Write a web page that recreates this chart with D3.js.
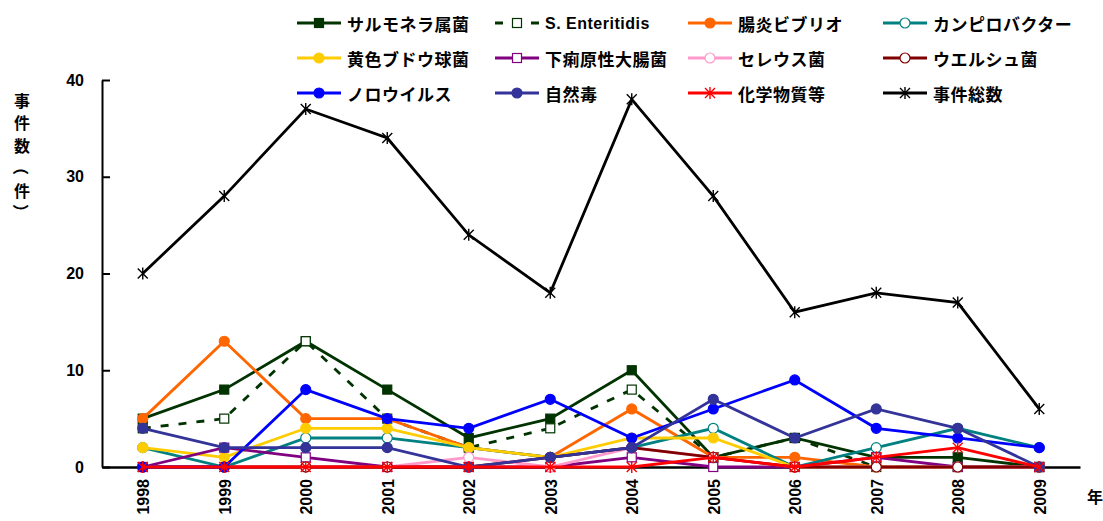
<!DOCTYPE html>
<html><head><meta charset="utf-8">
<script src="https://cdn.jsdelivr.net/npm/d3@7"></script>
<style>
html,body{margin:0;padding:0;background:#fff;}
svg{display:block;}
</style></head>
<body>
<svg id="chart" width="1103" height="521"></svg>
<script>
const years = ["1998","1999","2000","2001","2002","2003","2004","2005","2006","2007","2008","2009"];
const salmonella    = [5,8,13,8,3,5,10,1,3,1,1,0];
const enteritidis   = [4,5,13,5,2,4,8,1,3,0,0,0];
const vibrio        = [5,13,5,5,2,1,6,1,1,0,0,0];
const campylobacter = [2,0,3,3,2,1,2,4,0,2,4,2];
const staph         = [2,1,4,4,2,1,3,3,0,0,0,0];
const ecoli         = [0,2,1,0,0,0,1,0,0,1,0,0];
const cereus        = [0,0,0,0,1,0,2,1,0,0,0,0];
const perfringens   = [0,0,0,0,0,1,2,1,0,0,0,0];
const norovirus     = [0,0,8,5,4,7,3,6,9,4,3,2];
const naturalToxin  = [4,2,2,2,0,1,2,7,3,6,4,0];
const chemical      = [0,0,0,0,0,0,0,1,0,1,2,0];
const total         = [20,28,37,34,24,18,38,28,16,18,17,6];
const yTicks = [0,10,20,30,40];
const seriesNames = ["サルモネラ属菌","S. Enteritidis","腸炎ビブリオ","カンピロバクター",
  "黄色ブドウ球菌","下痢原性大腸菌","セレウス菌","ウエルシュ菌",
  "ノロウイルス","自然毒","化学物質等","事件総数"];
const yTitle = ["事","件","数","（","件","）"];
const xUnit = "年";

const series = [
  {name:seriesNames[0], values:salmonella, color:"#003300", marker:"square"},
  {name:seriesNames[1], values:enteritidis, color:"#003300", marker:"osquare", dash:"8,10"},
  {name:seriesNames[2], values:vibrio, color:"#FF6600", marker:"circle"},
  {name:seriesNames[3], values:campylobacter, color:"#008080", marker:"ocircle"},
  {name:seriesNames[4], values:staph, color:"#FFCC00", marker:"circle"},
  {name:seriesNames[5], values:ecoli, color:"#800080", marker:"osquare"},
  {name:seriesNames[6], values:cereus, color:"#FF99CC", marker:"ocircle"},
  {name:seriesNames[7], values:perfringens, color:"#800000", marker:"ocircle"},
  {name:seriesNames[8], values:norovirus, color:"#0000FF", marker:"circle"},
  {name:seriesNames[9], values:naturalToxin, color:"#333399", marker:"circle"},
  {name:seriesNames[10], values:chemical, color:"#FF0000", marker:"star"},
  {name:seriesNames[11], values:total, color:"#000000", marker:"star"}
];

const svg = d3.select("#chart");
const JP = "'Noto Sans CJK JP','Noto Sans',sans-serif";
const NUM = "'Liberation Sans',Arial,sans-serif";

const x = d3.scalePoint().domain(years).range([102,1080]).padding(0.5);
const y = d3.scaleLinear().domain([0,40]).range([467,80]);

// axes
const yAxis = svg.append("g").attr("transform","translate(102,0)")
  .call(d3.axisLeft(y).tickValues(yTicks).tickSizeInner(-8).tickSizeOuter(0).tickPadding(18));
yAxis.select(".domain").attr("stroke","#000").attr("stroke-width",2);
yAxis.selectAll(".tick line").attr("stroke","#000").attr("stroke-width",2);
yAxis.selectAll("text").attr("font-family",NUM).attr("font-weight","bold").attr("font-size",16).attr("fill","#000");

const xAxis = svg.append("g").attr("transform","translate(0,467)")
  .call(d3.axisBottom(x).tickSize(0).tickSizeOuter(0));
xAxis.select(".domain").attr("stroke","#000").attr("stroke-width",2.5);
xAxis.selectAll("text")
  .attr("x",0).attr("y",0).attr("dy",null)
  .attr("transform","translate(6,12) rotate(-90)")
  .attr("text-anchor","end")
  .attr("font-family",NUM).attr("font-weight","bold").attr("font-size",16).attr("fill","#000");

// y title (vertical text; parentheses rotated as in vertical writing)
const yPos = [100,122,145,167,190,212];
svg.append("g").selectAll("text").data(yTitle).join("text")
  .attr("transform",(d,i)=> (d==="（"||d==="）") ? `translate(22,${yPos[i]}) rotate(90)` : `translate(22,${yPos[i]})`)
  .attr("text-anchor","middle").attr("dominant-baseline","central")
  .attr("font-family",JP).attr("font-weight","bold").attr("font-size",16)
  .text(d=>d);

svg.append("text").attr("x",1095).attr("y",496)
  .attr("text-anchor","middle").attr("dominant-baseline","central")
  .attr("font-family",JP).attr("font-weight","bold").attr("font-size",16).text(xUnit);

function drawMarker(g, s, cx, cy){
  const c = s.color;
  if (s.marker==="square" || s.marker==="osquare"){
    g.append("rect").attr("x",cx-4.5).attr("y",cy-4.5).attr("width",9).attr("height",9)
      .attr("fill", s.marker==="square"?c:"#fff").attr("stroke",c).attr("stroke-width",1.2);
  } else if (s.marker==="circle" || s.marker==="ocircle"){
    g.append("circle").attr("cx",cx).attr("cy",cy).attr("r",5)
      .attr("fill", s.marker==="circle"?c:"#fff").attr("stroke",c).attr("stroke-width",1.2);
  } else {
    g.append("path")
      .attr("d",`M${cx-5},${cy-5}L${cx+5},${cy+5}M${cx-5},${cy+5}L${cx+5},${cy-5}M${cx},${cy-6}L${cx},${cy+6}`)
      .attr("stroke",c).attr("stroke-width",1.4).attr("fill","none");
  }
}

const line = d3.line().x((d,i)=>x(years[i])).y(d=>y(d));
const plot = svg.append("g");
series.forEach(s=>{
  const g = plot.append("g");
  g.append("path").attr("d",line(s.values)).attr("fill","none")
    .attr("stroke",s.color).attr("stroke-width",2.8)
    .attr("stroke-dasharray",s.dash||null);
  s.values.forEach((v,i)=>drawMarker(g,s,x(years[i]),y(v)));
});

// legend
const colX = [297,495,688,883];
const rowY = [23,58,93];
const leg = svg.append("g");
series.forEach((s,i)=>{
  const lx = colX[i%4], ly = rowY[Math.floor(i/4)];
  const g = leg.append("g");
  g.append("line").attr("x1",lx).attr("x2",lx+44).attr("y1",ly).attr("y2",ly)
    .attr("stroke",s.color).attr("stroke-width",2.8).attr("stroke-dasharray",s.dash||null);
  drawMarker(g,s,lx+22,ly);
  const latin = /^[A-Za-z]/.test(s.name);
  g.append("text").attr("x",lx+50).attr("y",ly).attr("dominant-baseline","central")
    .attr("font-family",latin?NUM:JP).attr("font-weight","bold")
    .attr("font-size",latin?16:17).attr("letter-spacing",0.5)
    .text(s.name);
});
</script>
</body></html>
